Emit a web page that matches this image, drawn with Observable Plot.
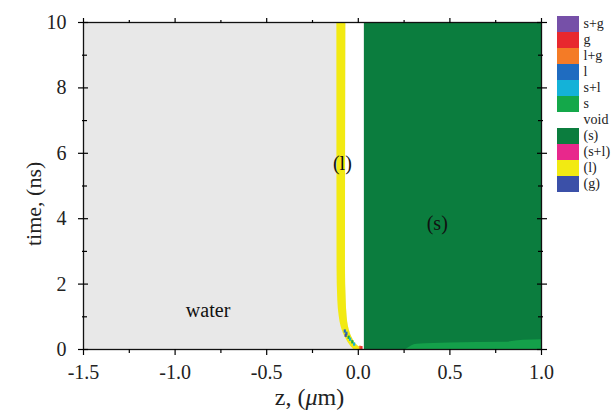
<!DOCTYPE html>
<html>
<head>
<meta charset="utf-8">
<script src="https://cdn.jsdelivr.net/npm/d3@7"></script>
<script src="https://cdn.jsdelivr.net/npm/@observablehq/plot@0.6"></script>
<style>
  html, body { margin: 0; padding: 0; background: white; }
  #wrap { position: relative; width: 612px; height: 419px; overflow: hidden; }
  #wrap svg { position: absolute; left: 0; top: 0; }
</style>
</head>
<body>
<div id="wrap"></div>
<script>
// ---------- data ----------
const zDomain = [-1.5, 1.0];
const tDomain = [0, 10];
const xMajor = [-1.5, -1.0, -0.5, 0.0, 0.5, 1.0];
const xMajorLabels = ["-1.5", "-1.0", "-0.5", "0.0", "0.5", "1.0"];
const xMinor = [-1.25, -0.75, -0.25, 0.25, 0.75];
const yMajor = [0, 2, 4, 6, 8, 10];
const yMajorLabels = ["0", "2", "4", "6", "8", "10"];
const yMinor = [1, 3, 5, 7, 9];

// liquid (l) band edges vs time
const bandTime  = [10, 2.5, 1.5, 1.0, 0.7, 0.5, 0.3, 0.15, 0.05, 0];
const bandLeft  = [-0.117, -0.116, -0.112, -0.104, -0.094, -0.082, -0.064, -0.048, -0.034, -0.026];
const bandRight = [-0.068, -0.070, -0.066, -0.061, -0.054, -0.044, -0.028, -0.010, 0.012, 0.026];
// solid front (left edge of (s))
const solidFront = 0.032;
// thin "s" strip at bottom of solid
const stripZ   = [0.26, 0.32, 0.5, 0.8, 0.9, 1.0];
const stripTop = [0.0, 0.16, 0.2, 0.22, 0.28, 0.3];
// speckles near the interface
const speckZ     = [-0.071, -0.062, -0.066, -0.050, -0.042, -0.030, -0.020, 0.012, 0.020];
const speckT     = [0.55, 0.48, 0.42, 0.36, 0.30, 0.22, 0.15, 0.05, 0.04];
const speckPhase = ["l", "l", "(g)", "s", "s+l", "s", "s+l", "l+g", "g"];

// annotations
const annText = ["water", "(l)", "(s)"];
const annZ = [-0.82, -0.087, 0.431];
const annT = [1.19, 5.69, 3.85];

// legend
const legendLabels = ["s+g", "g", "l+g", "l", "s+l", "s", "void", "(s)", "(s+l)", "(l)", "(g)"];
const legendColors = ["#7650a8", "#e8282e", "#f47b26", "#1f6cc0", "#14b2d8", "#14a84a", "#ffffff", "#0b7d3e", "#e8288c", "#f2ea12", "#3b50a8"];

// ---------- helpers ----------
const phaseColor = p => legendColors[legendLabels.indexOf(p)];
const band = bandTime.map((t, i) => ({t, l: bandLeft[i], r: bandRight[i]}));
const voidBand = bandTime.map((t, i) => ({t, r: bandRight[i]}));
const strip = stripZ.map((z, i) => ({z, top: stripTop[i]}));
const speck = speckZ.map((z, i) => ({z, t: speckT[i], p: speckPhase[i]}));
const ann = annText.map((s, i) => ({s, z: annZ[i], t: annT[i]}));
const dz = 0.012, dt = 0.1;
const serif = "Liberation Serif, Times New Roman, serif";
const blank = () => "";

const main = Plot.plot({
  width: 612, height: 419,
  marginLeft: 83, marginRight: 71, marginTop: 22, marginBottom: 70,
  x: {domain: zDomain, axis: null},
  y: {domain: tDomain, axis: null},
  style: {fontFamily: serif, background: "white"},
  marks: [
    Plot.frame({fill: "#e8e8e8"}),
    Plot.rect([solidFront], {x1: d => d, x2: zDomain[1], y1: tDomain[0], y2: tDomain[1], fill: "#0b7d3e"}),
    Plot.areaX(voidBand, {y: "t", x1: "r", x2: solidFront, fill: "white", curve: "monotone-y"}),
    Plot.areaX(band, {y: "t", x1: "l", x2: "r", fill: phaseColor("(l)"), curve: "monotone-y"}),
    Plot.areaY(strip, {x: "z", y1: tDomain[0], y2: "top", fill: "#14a04a", curve: "monotone-x"}),
    Plot.rect(speck, {x1: d => d.z - dz / 2, x2: d => d.z + dz / 2, y1: d => d.t - dt / 2, y2: d => d.t + dt / 2, fill: d => phaseColor(d.p)}),
    Plot.frame({stroke: "#111", strokeWidth: 1.3}),
    // ticks
    Plot.axisX({anchor: "bottom", ticks: xMajor, tickSize: 6, tickFormat: blank, label: null, strokeWidth: 1.2}),
    Plot.axisX({anchor: "bottom", ticks: xMinor, tickSize: 4, tickFormat: blank, label: null, strokeWidth: 1.2}),
    Plot.axisX({anchor: "top", ticks: xMajor, tickSize: 5, tickFormat: blank, label: null, strokeWidth: 1.2}),
    Plot.axisX({anchor: "top", ticks: xMinor, tickSize: 3, tickFormat: blank, label: null, strokeWidth: 1.2}),
    Plot.axisY({anchor: "left", ticks: yMajor, tickSize: 10, insetLeft: 5, tickFormat: blank, label: null, strokeWidth: 1.2}),
    Plot.axisY({anchor: "left", ticks: yMinor, tickSize: 5, insetLeft: 4, tickFormat: blank, label: null, strokeWidth: 1.2}),
    Plot.axisY({anchor: "right", ticks: yMajor, tickSize: 10, insetRight: 5, tickFormat: blank, label: null, strokeWidth: 1.2}),
    Plot.axisY({anchor: "right", ticks: yMinor, tickSize: 5, insetRight: 4, tickFormat: blank, label: null, strokeWidth: 1.2}),
    // tick labels
    Plot.text(xMajor, {x: d => d, frameAnchor: "bottom", dy: 29, text: (d, i) => xMajorLabels[i], fontSize: 20, fill: "#222"}),
    Plot.text(yMajor, {y: d => d, frameAnchor: "left", dx: -17, textAnchor: "end", text: (d, i) => yMajorLabels[i], fontSize: 20, fill: "#222"}),
    // axis labels
    Plot.text(["z, (μm)"], {frameAnchor: "bottom", dx: -3, dy: 55, fontSize: 24, fill: "#222"}),
    Plot.text(["time, (ns)"], {frameAnchor: "left", dx: -50, dy: 60, rotate: -90, fontSize: 22, fill: "#222"}),
    // annotations
    Plot.text(ann, {x: "z", y: "t", text: "s", fontSize: 20, fill: "#111"})
  ]
});

const legend = Plot.plot({
  width: 612, height: 419,
  marginLeft: 557, marginRight: 33, marginTop: 14, marginBottom: 226,
  x: {axis: null, padding: 0},
  y: {axis: null, padding: 0, domain: legendLabels},
  color: {type: "identity"},
  style: {fontFamily: serif, background: "transparent"},
  marks: [
    Plot.cell(legendLabels, {x: () => "sw", y: d => d, fill: (d, i) => legendColors[i]}),
    Plot.text(legendLabels, {x: () => "sw", y: d => d, dx: 15, dy: -1, textAnchor: "start", fontSize: 14, fill: "#222"})
  ]
});

const wrap = document.getElementById("wrap");
wrap.appendChild(main);
wrap.appendChild(legend);

// italic mu in the x label
main.querySelectorAll("text").forEach(t => {
  if (t.textContent === "z, (μm)") {
    t.textContent = "";
    const ns = "http://www.w3.org/2000/svg";
    const a = document.createElementNS(ns, "tspan"); a.textContent = "z, (";
    const b = document.createElementNS(ns, "tspan"); b.textContent = "μ"; b.setAttribute("font-style", "italic");
    const c = document.createElementNS(ns, "tspan"); c.textContent = "m)";
    t.append(a, b, c);
  }
});
</script>
</body>
</html>
